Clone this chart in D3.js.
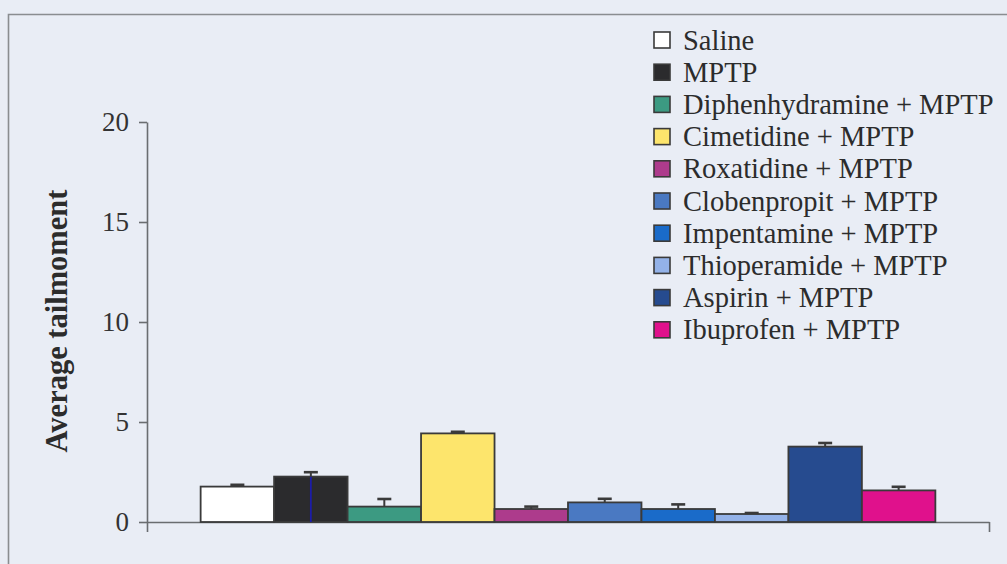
<!DOCTYPE html>
<html>
<head>
<meta charset="utf-8">
<script src="https://cdn.jsdelivr.net/npm/d3@7"></script>
<style>
  html, body { margin: 0; padding: 0; background: #e9edf5; }
  svg { display: block; }
</style>
</head>
<body>
<svg id="chart" width="1007" height="564"></svg>
<script>
// Treatment groups, mean tail moment and SEM
const groups = [
  "Saline",
  "MPTP",
  "Diphenhydramine + MPTP",
  "Cimetidine + MPTP",
  "Roxatidine + MPTP",
  "Clobenpropit + MPTP",
  "Impentamine + MPTP",
  "Thioperamide + MPTP",
  "Aspirin + MPTP",
  "Ibuprofen + MPTP"
];
const means = [1.77, 2.27, 0.77, 4.43, 0.65, 0.98, 0.65, 0.40, 3.77, 1.58];
const sems  = [0.09, 0.22, 0.38, 0.08, 0.12, 0.18, 0.23, 0.05, 0.18, 0.18];
const fills = ["#ffffff", "#2b2b2d", "#3c9a82", "#fde56c", "#ad3b8c",
               "#4a79c2", "#1a6bc9", "#93b2e8", "#264b8f", "#e0118c"];
const yTicks = [0, 5, 10, 15, 20];
const yTitle = "Average tailmoment";

const svg = d3.select("#chart");
const ink = "#2c2c2c";
const serif = "'Liberation Serif', 'Times New Roman', serif";

// outer frame
svg.append("path")
  .attr("d", "M8.5,570 V14.5 H1012")
  .attr("fill", "none")
  .attr("stroke", "#8a8d90")
  .attr("stroke-width", 1.6);

const plot = { left: 147, right: 989, top: 122, bottom: 522 };

const x = d3.scaleBand()
  .domain(groups)
  .range([plot.left, plot.right])
  .paddingInner(0)
  .paddingOuter(0.73);

const y = d3.scaleLinear()
  .domain([0, 20])
  .range([plot.bottom, plot.top]);

// y axis
const yAxis = svg.append("g")
  .attr("transform", `translate(${plot.left},0)`)
  .call(d3.axisLeft(y).tickValues(yTicks).tickSize(8).tickSizeOuter(0).tickPadding(10));
yAxis.select(".domain").attr("stroke", "#6a6d70").attr("stroke-width", 1.6);
yAxis.selectAll(".tick line").attr("stroke", "#6a6d70").attr("stroke-width", 1.6);
yAxis.selectAll(".tick text")
  .attr("font-family", serif)
  .attr("font-size", 27)
  .attr("fill", "#333");

// category axis: baseline with boundary tick marks below
const xEdge = d3.scaleLinear().domain([0, 1]).range([plot.left, plot.right]);
const xAxis = svg.append("g")
  .attr("transform", `translate(0,${plot.bottom})`)
  .call(d3.axisBottom(xEdge).tickValues([0, 1]).tickSize(10).tickSizeOuter(0).tickFormat(""));
xAxis.select(".domain").attr("stroke", "#6a6d70").attr("stroke-width", 1.6);
xAxis.selectAll(".tick line").attr("stroke", "#6a6d70").attr("stroke-width", 1.6);

// y axis title
svg.append("text")
  .attr("transform", `translate(67,${(plot.top + plot.bottom) / 2 - 1}) rotate(-90)`)
  .attr("text-anchor", "middle")
  .attr("font-family", serif)
  .attr("font-weight", "bold")
  .attr("font-size", 30.5)
  .attr("fill", ink)
  .text(yTitle);

const data = groups.map((g, i) => ({ g, m: means[i], e: sems[i], c: fills[i] }));

// bars
svg.append("g").selectAll("rect")
  .data(data)
  .join("rect")
  .attr("x", d => x(d.g))
  .attr("y", d => y(d.m))
  .attr("width", x.bandwidth())
  .attr("height", d => y(0) - y(d.m))
  .attr("fill", d => d.c)
  .attr("stroke", "#3a3a3a")
  .attr("stroke-width", 1.8);

// blue centre stroke on the MPTP bar
svg.append("g").selectAll("line")
  .data(data.filter(d => d.g === "MPTP"))
  .join("line")
  .attr("x1", d => x(d.g) + x.bandwidth() / 2)
  .attr("x2", d => x(d.g) + x.bandwidth() / 2)
  .attr("y1", d => y(d.m))
  .attr("y2", y(0))
  .attr("stroke", "#1c1ca8")
  .attr("stroke-width", 1.8);

// upper error bars
const eb = svg.append("g").attr("stroke", "#3a3a3a");
eb.selectAll("line.stem")
  .data(data)
  .join("line")
  .attr("class", "stem")
  .attr("x1", d => x(d.g) + x.bandwidth() / 2)
  .attr("x2", d => x(d.g) + x.bandwidth() / 2)
  .attr("y1", d => y(d.m))
  .attr("y2", d => y(d.m + d.e))
  .attr("stroke-width", 2);
eb.selectAll("line.cap")
  .data(data)
  .join("line")
  .attr("class", "cap")
  .attr("x1", d => x(d.g) + x.bandwidth() / 2 - 7)
  .attr("x2", d => x(d.g) + x.bandwidth() / 2 + 7)
  .attr("y1", d => y(d.m + d.e))
  .attr("y2", d => y(d.m + d.e))
  .attr("stroke-width", 2.6);

// legend
const legend = svg.append("g").attr("transform", "translate(653,40)");
const rowH = 32.2;
const item = legend.selectAll("g")
  .data(data)
  .join("g")
  .attr("transform", (d, i) => `translate(0,${i * rowH})`);
item.append("rect")
  .attr("x", 1)
  .attr("y", -8)
  .attr("width", 16)
  .attr("height", 16)
  .attr("fill", d => d.c)
  .attr("stroke", "#3a3a3a")
  .attr("stroke-width", 1.6);
item.append("text")
  .attr("x", 30)
  .attr("y", 9.5)
  .attr("font-family", serif)
  .attr("font-size", 28.5)
  .attr("fill", ink)
  .text(d => d.g);
</script>
</body>
</html>
